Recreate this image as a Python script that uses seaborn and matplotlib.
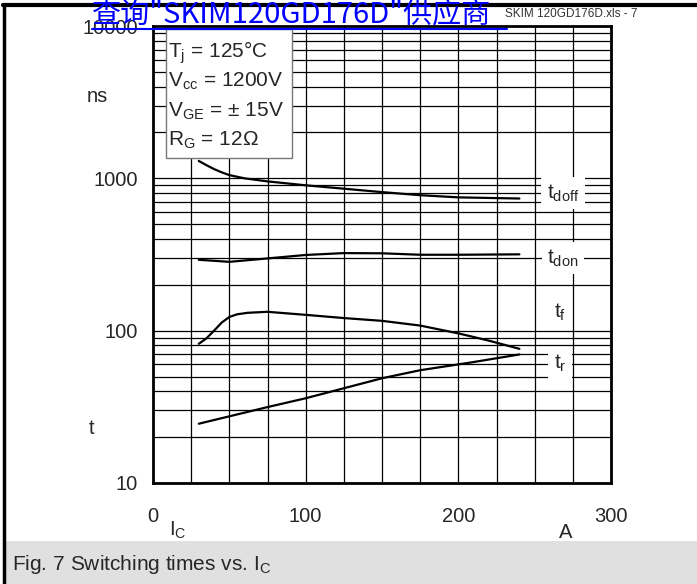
import matplotlib
matplotlib.use("Agg")
import matplotlib.pyplot as plt
from matplotlib.patches import Rectangle
from matplotlib.lines import Line2D
from matplotlib.ticker import MultipleLocator, LogLocator, NullFormatter
import seaborn as sns
import pandas as pd

# data (I_C in A, times in ns)
ic_tdoff = [30, 35, 40, 45, 50, 60, 75, 100, 125, 150, 175, 200, 240]
tdoff = [1300, 1220, 1150, 1095, 1050, 1000, 955, 900, 855, 812, 775, 750, 737]
ic_tdon = [30, 50, 75, 100, 125, 150, 175, 200, 240]
tdon = [292, 283, 298, 314, 323, 322, 315, 315, 317]
ic_tf = [30, 35, 40, 45, 50, 55, 62, 75, 100, 125, 150, 175, 200, 220, 240]
tf = [82, 89, 100, 113, 123, 128, 131, 133, 127, 121, 116, 108, 96, 86, 76]
ic_tr = [30, 75, 100, 150, 175, 209, 240]
tr = [24.5, 31.5, 36, 48.7, 55, 62, 69.8]

y_ticks = [10, 100, 1000, 10000]
y_ticklabels = ["10", "100", "1000", "10000"]
x_ticks = [0, 100, 200, 300]
conditions = [r"$T_j$ = 125°C", r"$V_{cc}$ = 1200V", r"$V_{GE}$ = ± 15V", r"$R_G$ = 12Ω"]
curve_labels = [(r"$t_{doff}$", 268.6, 801), (r"$t_{don}$", 268.6, 300),
                (r"$t_f$", 266.5, 131), (r"$t_r$", 266.5, 61.4)]

sns.set_style("white")
plt.rcParams["font.family"] = ["Liberation Sans", "DejaVu Sans"]
plt.rcParams["mathtext.default"] = "regular"

fig = plt.figure(figsize=(6.97, 5.84), dpi=100)
W, H = 697, 584
ax = fig.add_axes([153 / W, 1 - 483 / H, 458 / W, 457 / H])

series = [(ic_tdoff, tdoff), (ic_tdon, tdon), (ic_tf, tf), (ic_tr, tr)]
for xs, ys in series:
    df = pd.DataFrame({"Ic": xs, "t": ys})
    sns.lineplot(data=df, x="Ic", y="t", ax=ax, color="black", lw=1.6, zorder=4)

ax.set_yscale("log")
ax.set_xlim(0, 300)
ax.set_ylim(10, 10000)
ax.set_xticks(x_ticks)
ax.set_xticklabels([str(v) for v in x_ticks])
ax.xaxis.set_minor_locator(MultipleLocator(25))
ax.set_yticks(y_ticks)
ax.set_yticklabels(y_ticklabels)
ax.yaxis.set_minor_locator(LogLocator(base=10, subs=range(2, 10)))
ax.yaxis.set_minor_formatter(NullFormatter())
ax.tick_params(which="both", length=0, labelsize=14.5)
ax.tick_params(axis="y", pad=11)
ax.tick_params(axis="x", pad=17)
ax.grid(True, which="both", color="black", lw=0.9)
ax.set_axisbelow(True)
ax.set_xlabel("")
ax.set_ylabel("")
for sp in ax.spines.values():
    sp.set_color("black")
    sp.set_linewidth(2)

# condition box
ax.add_patch(Rectangle((0.028, 0.711), 0.276, 0.282, transform=ax.transAxes,
                       facecolor="white", edgecolor="#777777", lw=1, zorder=5))
for i, s in enumerate(conditions):
    ax.text(0.032, 0.942 - i * 0.064, s, transform=ax.transAxes, fontsize=15,
            va="center", ha="left", zorder=6)

for s, xv, yv in curve_labels:
    ax.text(xv, yv, s, fontsize=15, ha="center", va="center", zorder=5,
            bbox=dict(facecolor="white", edgecolor="none", pad=4))

# axis captions
fig.text(97 / W, 1 - 97 / H, "ns", fontsize=14.5, ha="center", va="center")
fig.text(92 / W, 1 - 428 / H, "t", fontsize=14.5, ha="center", va="center")
fig.text(178 / W, 1 - 530 / H, r"$I_C$", fontsize=14.5, ha="center", va="center")
fig.text(566 / W, 1 - 533 / H, "A", fontsize=14.5, ha="center", va="center")

# caption strip and frame
fig.patches.append(Rectangle((3 / W, 0), 1, 43 / H, transform=fig.transFigure,
                             facecolor="#e0e0e0", edgecolor="none", zorder=0))
fig.text(12 / W, 1 - 564 / H, r"Fig. 7 Switching times vs. $I_C$", fontsize=15,
         ha="left", va="center")
fig.lines.append(Line2D([3 / W, 1], [1 - 5 / H, 1 - 5 / H], transform=fig.transFigure,
                        color="black", lw=3))
fig.lines.append(Line2D([4 / W, 4 / W], [0, 1 - 5 / H], transform=fig.transFigure,
                        color="black", lw=2.5))

# header texts
fig.text(505 / W, 1 - 14 / H, "SKIM 120GD176D.xls - 7", fontsize=8.5, color="#333333",
         ha="left", va="center")
fig.text(92 / W, 1 - 22 / H, "查询\"SKIM120GD176D\"供应商", fontsize=21, color="#0000ff",
         ha="left", va="baseline", family=["Noto Sans CJK SC", "DejaVu Sans"], zorder=10)
fig.lines.append(Line2D([92 / W, 507 / W], [1 - 29 / H, 1 - 29 / H], transform=fig.transFigure,
                        color="#0000ff", lw=1.5, zorder=10))

fig.savefig("out.png", dpi=100)
